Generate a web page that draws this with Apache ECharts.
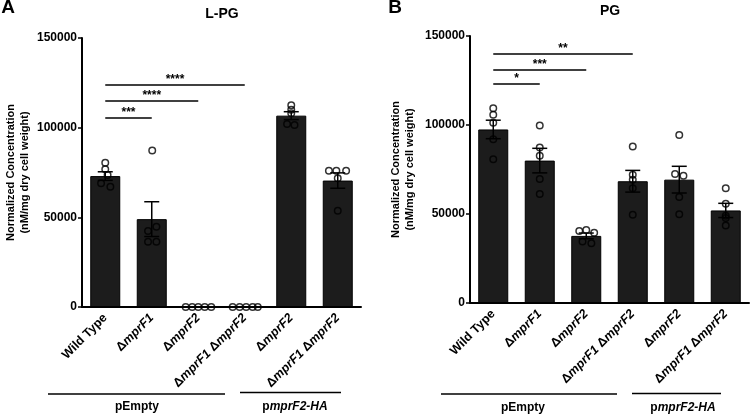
<!DOCTYPE html>
<html>
<head>
<meta charset="utf-8">
<script src="https://cdn.jsdelivr.net/npm/echarts@6/dist/echarts.min.js"></script>
<style>
html, body { margin: 0; padding: 0; background: #fff; }
#main { width: 750px; height: 414px; }
</style>
</head>
<body>
<div id="main"></div>
<script>
// x axis strains, same order in both panels
var strains = ['Wild Type', 'ΔmprF1', 'ΔmprF2', 'ΔmprF1 ΔmprF2', 'ΔmprF2', 'ΔmprF1 ΔmprF2'];
var yTicks = [0, 50000, 100000, 150000];

// A: L-PG
var lpgMean = [73000, 49000, 0, 0, 106700, 70500];
var lpgSem = [2400, 9700, 0, 0, 2200, 4300];
var lpgPoints = [
    [80500, 76800, 73600, 69000, 67100],
    [87200, 44800, 42400, 36400, 36400],
    [0, 0, 0, 0, 0],
    [0, 0, 0, 0, 0],
    [112500, 110000, 108000, 102000, 101500],
    [76000, 76000, 76000, 71800, 53700]
];
var lpgJitter = [
    [0, 0, 0.05, -0.09, 0.11],
    [0.01, 0.1, -0.08, -0.08, 0.1],
    [-0.27, -0.13, 0, 0.14, 0.28],
    [-0.26, -0.11, 0.03, 0.17, 0.28],
    [0, 0, 0, -0.09, 0.07],
    [-0.19, -0.03, 0.18, 0, 0]
];
// [to bar, height, stars], all brackets start at Wild Type
var lpgSig = [[3, 123800, '****'], [2, 115000, '****'], [1, 105800, '***']];

// B: PG
var pgMean = [97500, 80000, 37700, 68400, 69300, 52000];
var pgSem = [5200, 6900, 1600, 6100, 7500, 4000];
var pgPoints = [
    [109400, 105700, 101300, 92000, 80800],
    [99700, 87300, 82700, 69600, 61300],
    [40500, 41000, 39500, 34500, 33500],
    [87900, 72000, 69200, 64500, 49600],
    [94400, 72500, 71500, 59500, 49900],
    [64500, 55700, 49000, 47700, 43500]
];
var pgJitter = [
    [0, 0, 0, 0, 0],
    [0, 0, 0, 0, 0],
    [-0.15, 0, 0.17, -0.08, 0.11],
    [0, 0, 0, 0, 0],
    [0, -0.09, 0.09, 0, 0],
    [0, 0, 0, 0, 0]
];
var pgSig = [[3, 139900, '**'], [2, 131300, '***'], [1, 123100, '*']];

var FONT = '"Liberation Sans", Arial, sans-serif';

function richName(s) {
    return s.split(' ').map(function (w) {
        return w.charAt(0) === 'Δ' ? '{d|Δ}{i|' + w.slice(1) + '}' : '{b|' + w + '}';
    }).join('{b| }');
}

function renderErr(params, api) {
    var x = api.value(0), m = api.value(1), s = api.value(2);
    if (!s) return;
    var top = api.coord([x, m + s]);
    var bot = api.coord([x, m - s]);
    var hw = 7.5;
    var st = { stroke: '#000', lineWidth: 1.5 };
    return {
        type: 'group',
        children: [
            { type: 'line', shape: { x1: top[0], y1: top[1], x2: bot[0], y2: bot[1] }, style: st },
            { type: 'line', shape: { x1: top[0] - hw, y1: top[1], x2: top[0] + hw, y2: top[1] }, style: st },
            { type: 'line', shape: { x1: bot[0] - hw, y1: bot[1], x2: bot[0] + hw, y2: bot[1] }, style: st }
        ]
    };
}

function panelSeries(k, mean, sem, points, jitter, sig) {
    var pts = [];
    points.forEach(function (arr, i) {
        arr.forEach(function (v, j) { pts.push([i + jitter[i][j], v]); });
    });
    return [
        {
            type: 'bar', xAxisIndex: k * 2, yAxisIndex: k,
            barWidth: 30,
            itemStyle: { color: '#1c1c1c', borderColor: '#000', borderWidth: 1 },
            data: mean
        },
        {
            type: 'custom', xAxisIndex: k * 2, yAxisIndex: k,
            renderItem: renderErr,
            encode: { x: 0, y: 1 },
            data: mean.map(function (m, i) { return [i, m, sem[i]]; }),
            z: 3
        },
        {
            type: 'scatter', xAxisIndex: k * 2 + 1, yAxisIndex: k,
            symbol: 'circle', symbolSize: 6.5,
            itemStyle: { color: 'rgba(0,0,0,0)', borderColor: '#000', borderWidth: 1.5 },
            data: pts,
            z: 4,
            markLine: {
                silent: true, symbol: 'none',
                lineStyle: { color: '#000', width: 1.5, type: 'solid' },
                label: {
                    show: true, position: 'middle', formatter: '{b}',
                    color: '#000', fontFamily: FONT, fontWeight: 'bold', fontSize: 12, distance: -1
                },
                emphasis: { disabled: true },
                data: sig.map(function (s) {
                    return [{ coord: [0, s[1]], name: s[2] }, { coord: [s[0], s[1]] }];
                })
            }
        }
    ];
}

function catAxis(g) {
    return {
        type: 'category', gridIndex: g,
        data: strains.map(function (s, i) { return 'c' + i; }),
        axisLine: { onZero: false, lineStyle: { color: '#000', width: 2 } },
        axisTick: { alignWithLabel: true, length: 4, lineStyle: { color: '#000', width: 1.5 } },
        axisLabel: {
            rotate: 45, margin: 9, interval: 0,
            formatter: function (v, i) { return richName(strains[i]); },
            rich: {
                b: { fontFamily: FONT, fontWeight: 'bold', fontSize: 12.5, color: '#000' },
                d: { fontFamily: FONT, fontWeight: 'bold', fontSize: 12.5, color: '#000' },
                i: { fontFamily: FONT, fontWeight: 'bold', fontStyle: 'italic', fontSize: 12.5, color: '#000' }
            }
        }
    };
}

function hiddenAxis(g) {
    return { type: 'value', gridIndex: g, min: -0.5, max: 5.5, show: false };
}

function valAxis(g, gap) {
    return {
        type: 'value', gridIndex: g,
        min: yTicks[0], max: yTicks[yTicks.length - 1], interval: yTicks[1] - yTicks[0],
        name: 'Normalized Concentration\n(nM/mg dry cell weight)',
        nameLocation: 'middle', nameGap: gap, nameRotate: 90,
        nameTextStyle: { fontFamily: FONT, fontWeight: 'bold', fontSize: 11, lineHeight: 14, color: '#000' },
        splitLine: { show: false },
        axisLine: { show: true, onZero: false, lineStyle: { color: '#000', width: 2 } },
        axisTick: { show: true, length: 4, lineStyle: { color: '#000', width: 1.5 } },
        axisLabel: {
            fontFamily: FONT, fontWeight: 'bold', fontSize: 12, color: '#000', margin: 5,
            formatter: function (v) { return String(v); }
        }
    };
}

var groupRich = {
    n: { font: 'bold 12px ' + FONT, fill: '#000' },
    i: { font: 'italic bold 12px ' + FONT, fill: '#000' }
};

function gText(x, y, text, size) {
    return {
        type: 'text', x: x, y: y, silent: true,
        style: { text: text, font: 'bold ' + size + 'px ' + FONT, fill: '#000', align: 'center', verticalAlign: 'middle', rich: groupRich }
    };
}
function gLine(x1, x2, y) {
    return { type: 'line', silent: true, shape: { x1: x1, y1: y, x2: x2, y2: y }, style: { stroke: '#000', lineWidth: 1.5 } };
}

var chart = echarts.init(document.getElementById('main'));
chart.setOption({
    animation: false,
    backgroundColor: '#fff',
    grid: [
        { left: 82, top: 38, width: 279, height: 269 },
        { left: 470, top: 36, width: 279, height: 267 }
    ],
    xAxis: [catAxis(0), hiddenAxis(0), catAxis(1), hiddenAxis(1)],
    yAxis: [valAxis(0, 50), valAxis(1, 53)],
    series: panelSeries(0, lpgMean, lpgSem, lpgPoints, lpgJitter, lpgSig)
        .concat(panelSeries(1, pgMean, pgSem, pgPoints, pgJitter, pgSig)),
    graphic: [
        gText(8, 8, 'A', 19),
        gText(222, 14, 'L-PG', 14),
        gText(395, 8, 'B', 19),
        gText(610, 11, 'PG', 14),
        gLine(48, 225, 394),
        gText(137, 407, '{n|pEmpty}', 12),
        gLine(240, 341, 392.5),
        gText(295, 407, '{n|p}{i|mprF2-HA}', 12),
        gLine(441, 617, 394),
        gText(523, 408, '{n|pEmpty}', 12),
        gLine(632, 721, 393.5),
        gText(683, 408, '{n|p}{i|mprF2-HA}', 12)
    ]
});
</script>
</body>
</html>
